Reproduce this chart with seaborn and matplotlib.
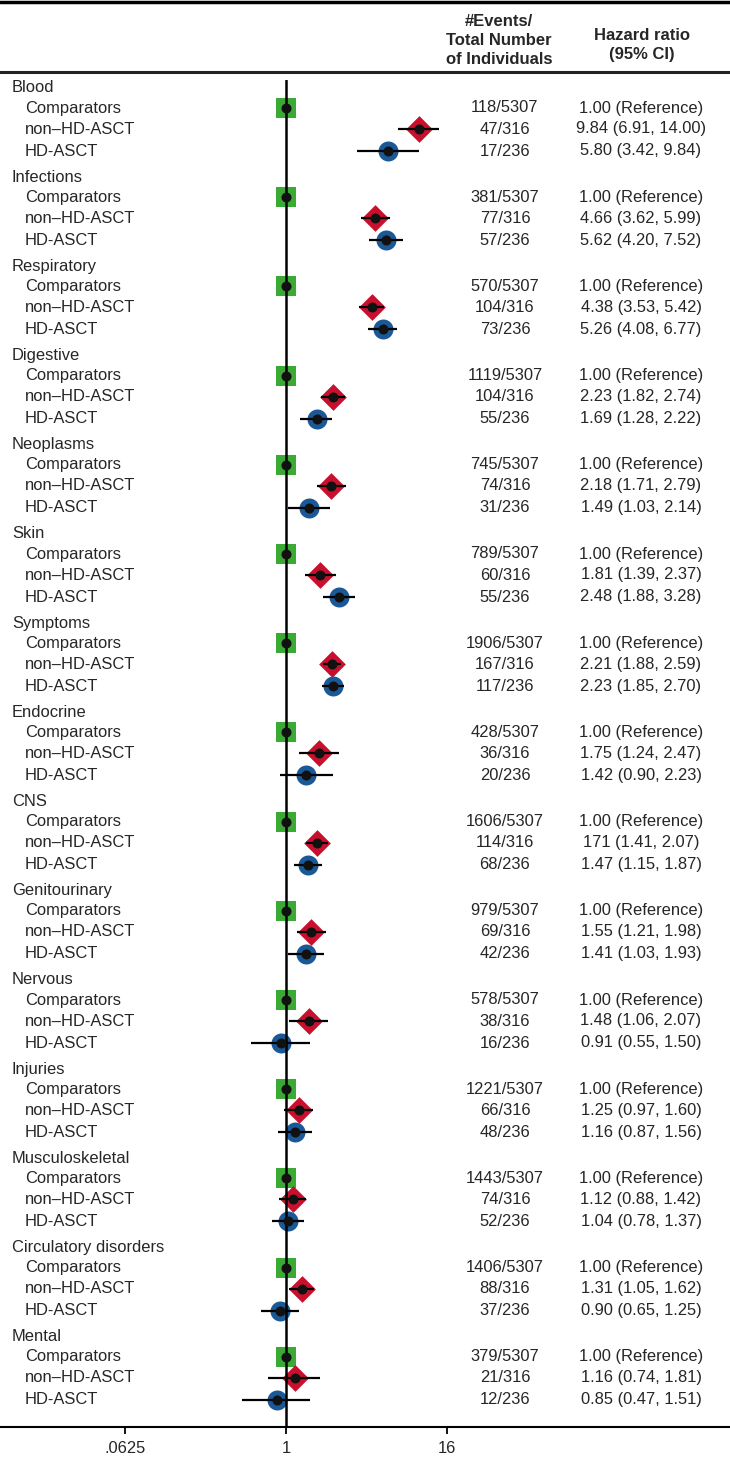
import numpy as np
import pandas as pd
import matplotlib
matplotlib.use("Agg")
import matplotlib.pyplot as plt
from matplotlib.lines import Line2D
import seaborn as sns

# data
categories = ["Blood", "Infections", "Respiratory", "Digestive", "Neoplasms", "Skin",
              "Symptoms", "Endocrine", "CNS", "Genitourinary", "Nervous", "Injuries",
              "Musculoskeletal", "Circulatory disorders", "Mental"]
groups = ["Comparators", "non\u2013HD-ASCT", "HD-ASCT"]

comp_events = [118, 381, 570, 1119, 745, 789, 1906, 428, 1606, 979, 578, 1221, 1443, 1406, 379]
comp_total = 5307
nonhd_events = [47, 77, 104, 104, 74, 60, 167, 36, 114, 69, 38, 66, 74, 88, 21]
nonhd_total = 316
hd_events = [17, 57, 73, 55, 31, 55, 117, 20, 68, 42, 16, 48, 52, 37, 12]
hd_total = 236

nonhd_hr = [9.84, 4.66, 4.38, 2.23, 2.18, 1.81, 2.21, 1.75, 1.71, 1.55, 1.48, 1.25, 1.12, 1.31, 1.16]
nonhd_lo = [6.91, 3.62, 3.53, 1.82, 1.71, 1.39, 1.88, 1.24, 1.41, 1.21, 1.06, 0.97, 0.88, 1.05, 0.74]
nonhd_hi = [14.00, 5.99, 5.42, 2.74, 2.79, 2.37, 2.59, 2.47, 2.07, 1.98, 2.07, 1.60, 1.42, 1.62, 1.81]
hd_hr = [5.80, 5.62, 5.26, 1.69, 1.49, 2.48, 2.23, 1.42, 1.47, 1.41, 0.91, 1.16, 1.04, 0.90, 0.85]
hd_lo = [3.42, 4.20, 4.08, 1.28, 1.03, 1.88, 1.85, 0.90, 1.15, 1.03, 0.55, 0.87, 0.78, 0.65, 0.47]
hd_hi = [9.84, 7.52, 6.77, 2.22, 2.14, 3.28, 2.70, 2.23, 1.87, 1.93, 1.50, 1.56, 1.37, 1.25, 1.51]

# HR labels as printed (one typo kept as in the source)
nonhd_label_hr = ["9.84", "4.66", "4.38", "2.23", "2.18", "1.81", "2.21", "1.75", "171",
                  "1.55", "1.48", "1.25", "1.12", "1.31", "1.16"]

tick_vals = [0.0625, 1, 16]
tick_labels = [".0625", "1", "16"]

green = "#3aaa35"
red = "#c8102e"
blue = "#1a5896"

# vertical layout (in pixels from the first category header)
block_px = 89.2
offsets_px = [0, 20, 41, 63]  # header, comparators, non-HD, HD

rows = []
for k, cat in enumerate(categories):
    base = k * block_px
    rows.append(dict(y=base + offsets_px[1], group="comp", hr=1.0, lo=np.nan, hi=np.nan,
                     events=f"{comp_events[k]}/{comp_total}", label="1.00 (Reference)"))
    rows.append(dict(y=base + offsets_px[2], group="nonhd", hr=nonhd_hr[k], lo=nonhd_lo[k],
                     hi=nonhd_hi[k], events=f"{nonhd_events[k]}/{nonhd_total}",
                     label=f"{nonhd_label_hr[k]} ({nonhd_lo[k]:.2f}, {nonhd_hi[k]:.2f})"))
    rows.append(dict(y=base + offsets_px[3], group="hd", hr=hd_hr[k], lo=hd_lo[k], hi=hd_hi[k],
                     events=f"{hd_events[k]}/{hd_total}",
                     label=f"{hd_hr[k]:.2f} ({hd_lo[k]:.2f}, {hd_hi[k]:.2f})"))
df = pd.DataFrame(rows)

sns.set_style("white")
plt.rcParams["font.family"] = ["Liberation Sans", "DejaVu Sans"]
plt.rcParams["font.size"] = 11.9

W, H = 730, 1459
fig = plt.figure(figsize=(W / 100, H / 100), dpi=100)
ax_top, ax_bot = 80, 1427
ax = fig.add_axes([0, (H - ax_bot) / H, 1, (ax_bot - ax_top) / H])

first_px = 88
ax.set_ylim(ax_bot - first_px, ax_top - first_px)

ax.set_xscale("log", base=2)
x1_px, px_per_doubling = 286, 40.3
ax.set_xlim(2 ** (-x1_px / px_per_doubling), 2 ** ((W - x1_px) / px_per_doubling))

# markers
styles = {"comp": ("s", green, 207), "nonhd": ("D", red, 185), "hd": ("o", blue, 207)}
for g, (m, c, s) in styles.items():
    sub = df[df.group == g]
    sns.scatterplot(data=sub, x="hr", y="y", marker=m, color=c, s=s, linewidth=0,
                    ax=ax, zorder=2, legend=False)

# confidence intervals
ci = df.dropna(subset=["lo"])
ax.hlines(ci["y"], ci["lo"], ci["hi"], color="black", lw=1.6, zorder=3)
ax.axvline(1, color="black", lw=1.8, zorder=3)

# centre dots
sns.scatterplot(data=df, x="hr", y="y", color="#111111", s=52, linewidth=0,
                ax=ax, zorder=4, legend=False)

# text columns
tr = ax.get_yaxis_transform()
for k, cat in enumerate(categories):
    ax.text(12 / W, k * block_px, cat, transform=tr, ha="left", va="center")
    for j, g in enumerate(groups):
        ax.text(25 / W, k * block_px + offsets_px[j + 1], g, transform=tr,
                ha="left", va="center")
for _, r in df.iterrows():
    ax.text(505 / W, r["y"], r["events"], transform=tr, ha="center", va="center")
    ax.text(641 / W, r["y"], r["label"], transform=tr, ha="center", va="center")

# header
hdr = dict(ha="center", va="center", fontweight="bold", fontsize=12)
fig.text(499 / W, 1 - 22 / H, "#Events/", **hdr)
fig.text(499 / W, 1 - 40.5 / H, "Total Number", **hdr)
fig.text(499 / W, 1 - 59 / H, "of Individuals", **hdr)
fig.text(642 / W, 1 - 36 / H, "Hazard ratio", **hdr)
fig.text(642 / W, 1 - 55 / H, "(95% CI)", **hdr)
fig.add_artist(Line2D([0, 1], [1 - 1.5 / H, 1 - 1.5 / H], transform=fig.transFigure,
                      color="black", lw=2.5))
fig.add_artist(Line2D([0, 1], [1 - 72 / H, 1 - 72 / H], transform=fig.transFigure,
                      color="#222222", lw=2.2))

# axes styling
for sp in ["left", "right", "top"]:
    ax.spines[sp].set_visible(False)
ax.spines["bottom"].set_color("black")
ax.spines["bottom"].set_linewidth(1.5)
ax.set_yticks([])
ax.set_xticks(tick_vals)
ax.set_xticklabels(tick_labels)
ax.minorticks_off()
ax.tick_params(axis="x", direction="out", length=5, width=1.3, color="black",
               labelsize=11.9, pad=5, bottom=True)
ax.set_xlabel("")
ax.set_ylabel("")

fig.savefig("out.png", dpi=100)
